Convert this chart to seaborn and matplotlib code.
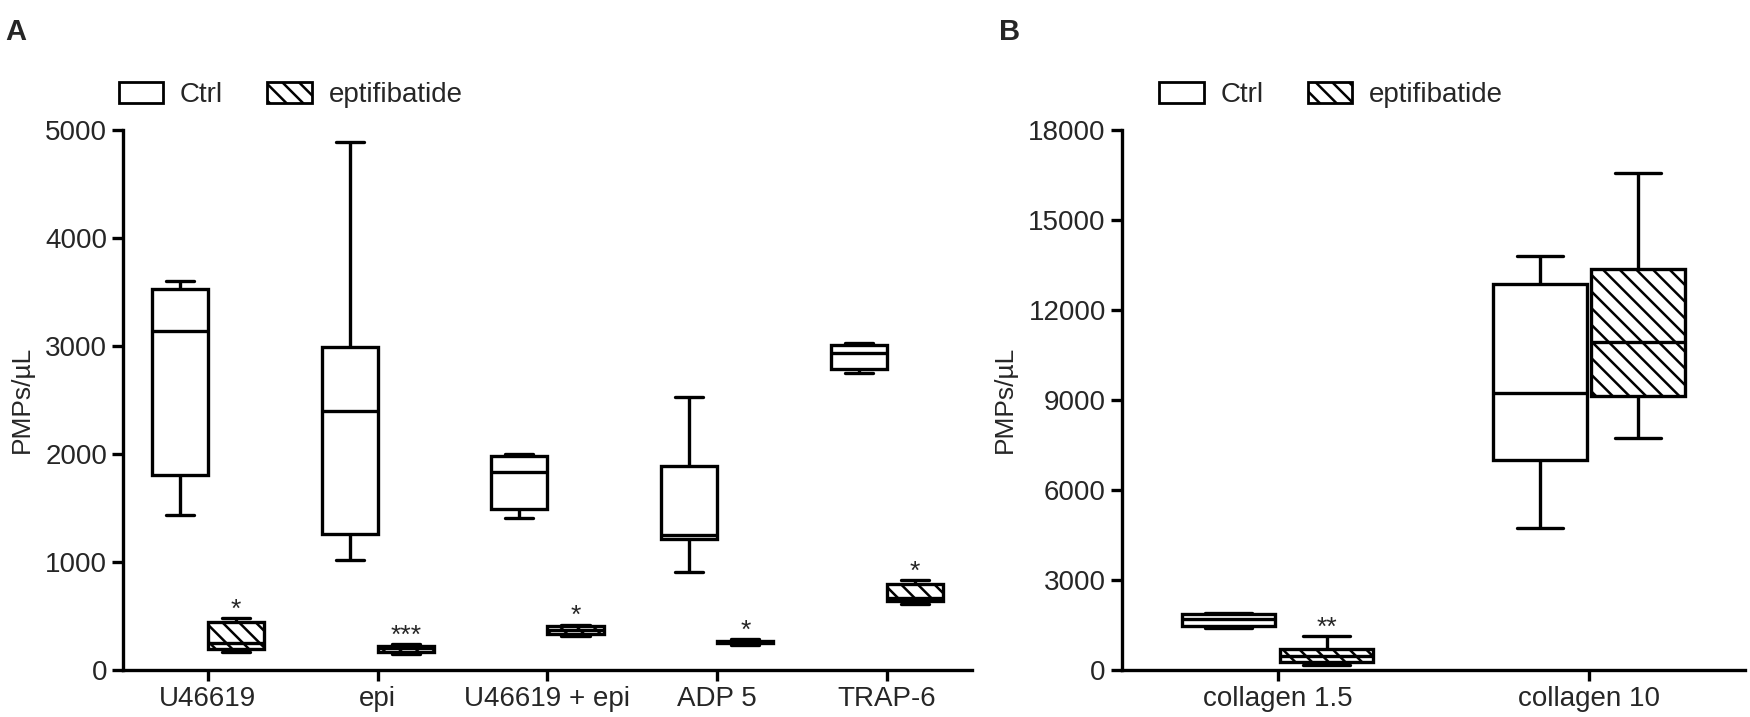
import numpy as np
import pandas as pd
import matplotlib
matplotlib.use("Agg")
import matplotlib.pyplot as plt
import seaborn as sns
from matplotlib.patches import Patch

# panel A: min, q1, median, q3, max per box
cats_a = ["U46619", "epi", "U46619 + epi", "ADP 5", "TRAP-6"]
ctrl_a = [[1430, 1800, 3140, 3530, 3600],
          [1020, 1260, 2400, 2990, 4890],
          [1410, 1490, 1830, 1980, 2000],
          [910, 1215, 1245, 1890, 2530],
          [2750, 2790, 2930, 3010, 3030]]
epti_a = [[170, 190, 250, 440, 480],
          [150, 170, 200, 225, 240],
          [310, 330, 370, 410, 420],
          [235, 245, 255, 270, 285],
          [610, 640, 670, 800, 830]]
stars_a = ["*", "***", "*", "*", "*"]

# panel B
cats_b = ["collagen 1.5", "collagen 10"]
ctrl_b = [[1390, 1450, 1690, 1880, 1900],
          [4730, 7000, 9230, 12860, 13800]]
epti_b = [[180, 260, 460, 710, 1140],
          [7740, 9130, 10930, 13350, 16560]]
stars_b = ["**", ""]

groups = ["Ctrl", "eptifibatide"]

sns.set_theme(style="ticks")
plt.rcParams["font.family"] = ["Liberation Sans", "DejaVu Sans"]
plt.rcParams["hatch.linewidth"] = 1.8


def to_long(cats, ctrl, epti):
    rows = []
    for c, a, b in zip(cats, ctrl, epti):
        for v in a:
            rows.append((c, "Ctrl", v))
        for v in b:
            rows.append((c, "eptifibatide", v))
    return pd.DataFrame(rows, columns=["cat", "grp", "val"])


def panel(ax, cats, ctrl, epti, stars, width, gap, ymax, ystep, leg_x):
    df = to_long(cats, ctrl, epti)
    sns.boxplot(data=df, x="cat", y="val", hue="grp", order=cats, hue_order=groups,
                whis=(0, 100), width=width, gap=gap, showfliers=False, saturation=1,
                palette={"Ctrl": "white", "eptifibatide": "white"},
                linecolor="black", linewidth=2.4, legend=False, ax=ax)
    for p in ax.patches:
        xs = p.get_path().vertices[:, 0]
        xc = (xs.min() + xs.max()) / 2
        if xc > round(xc):
            p.set_hatch("\\\\")
    # significance marks above eptifibatide whiskers
    off = width / 4
    for i, (s, vals) in enumerate(zip(stars, epti)):
        if s:
            ax.annotate(s, (i + off, max(vals)), xytext=(0, 1), textcoords="offset points",
                        ha="center", va="baseline", fontsize=19)
    ax.set_xlim(-0.5, len(cats) - 0.5)
    ax.set_ylim(0, ymax)
    ax.set_yticks(np.arange(0, ymax + 1, ystep))
    ax.set_xlabel("")
    ax.set_ylabel("PMPs/µL", fontsize=19, labelpad=8)
    ax.tick_params(axis="both", labelsize=20, width=2.4, length=8, color="black")
    for s in ["left", "bottom"]:
        ax.spines[s].set_linewidth(2.4)
        ax.spines[s].set_color("black")
    sns.despine(ax=ax)
    handles = [Patch(facecolor="white", edgecolor="black", linewidth=2, label="Ctrl"),
               Patch(facecolor="white", edgecolor="black", linewidth=2, hatch="\\\\",
                     label="eptifibatide")]
    ax.legend(handles=handles, loc="center left", bbox_to_anchor=(leg_x, 1.065), ncol=2,
              frameon=False, fontsize=20, handlelength=1.6, handleheight=0.8,
              handletextpad=0.6, columnspacing=1.6, borderpad=0, borderaxespad=0)


fig = plt.figure(figsize=(17.5, 7.17), dpi=100)
ax_a = fig.add_axes([0.0703, 0.0656, 0.4851, 0.7534])
ax_b = fig.add_axes([0.641, 0.0656, 0.356, 0.7534])

panel(ax_a, cats_a, ctrl_a, epti_a, stars_a, 0.66, 0.0, 5000, 1000, -0.005)
panel(ax_b, cats_b, ctrl_b, epti_b, stars_b, 0.63, 0.05, 18000, 3000, 0.06)

fig.text(0.003, 0.955, "A", fontsize=21, fontweight="bold", va="center")
fig.text(0.571, 0.955, "B", fontsize=21, fontweight="bold", va="center")

fig.savefig("out.png", dpi=100)
